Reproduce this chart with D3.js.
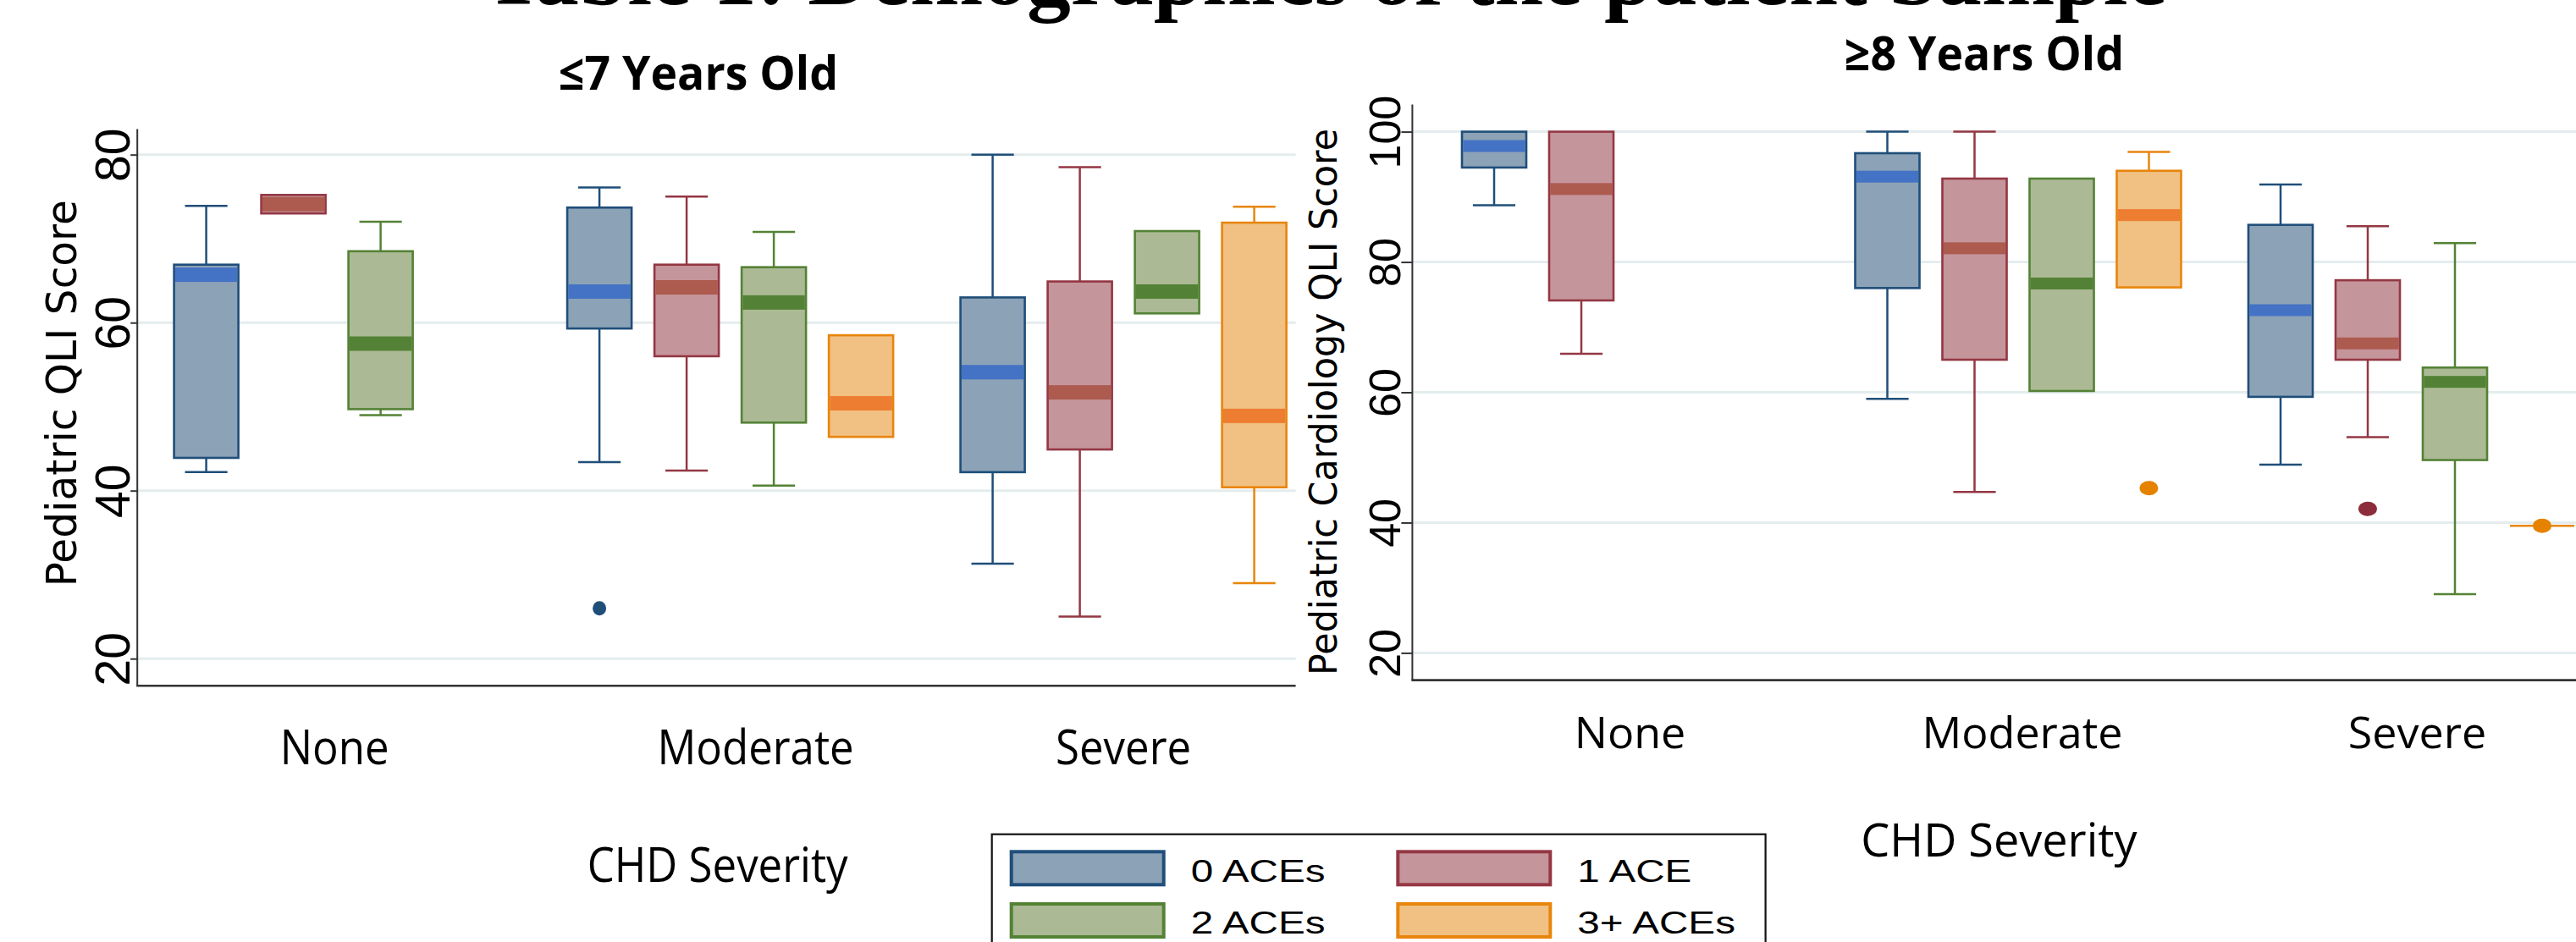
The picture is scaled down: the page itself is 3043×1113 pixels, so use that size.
<!DOCTYPE html>
<html><head><meta charset="utf-8">
<script src="https://cdn.jsdelivr.net/npm/d3@7"></script>
<style>body{margin:0;background:#fff;} svg{display:block}</style>
</head><body>
<svg id="chart" width="3043" height="1113"></svg>
<script>
// ---------------- DATA ----------------
const categories = ["None", "Moderate", "Severe"];
const series = ["0 ACEs", "1 ACE", "2 ACEs", "3+ ACEs"];
const yTicksYoung = [20, 40, 60, 80];
const yTicksOld = [20, 40, 60, 80, 100];

// ≤7 Years Old — rows: categories, cols: series (null = no group)
const youngLow    = [[42.2, 73.0, 49.0, null], [43.4, 42.4, 40.6, 46.4], [31.3, 25.0, 61.1, 29.0]];
const youngQ1     = [[43.9, 73.0, 49.7, null], [59.3, 56.0, 48.1, 46.4], [42.2, 44.9, 61.1, 40.4]];
const youngMedian = [[65.7, 74.1, 57.5, null], [63.7, 64.2, 62.4, 50.4], [54.1, 51.7, 63.7, 48.9]];
const youngQ3     = [[66.9, 75.2, 68.5, null], [73.7, 66.9, 66.6, 58.5], [63.0, 64.9, 70.9, 71.9]];
const youngHigh   = [[73.9, 75.2, 72.0, null], [76.1, 75.0, 70.8, 58.5], [80.0, 78.5, 70.9, 73.8]];
const youngOutliers = [{cat: 1, ser: 0, value: 26.0}];

// ≥8 Years Old
const oldLow    = [[88.7, 65.9, null, null], [59.0, 44.7, 60.2, 76.1], [48.9, 53.1, 29.0, 39.5]];
const oldQ1     = [[94.5, 74.1, null, null], [76.0, 65.0, 60.2, 76.1], [59.3, 65.0, 49.6, 39.5]];
const oldMedian = [[97.8, 91.2, null, null], [93.1, 82.1, 76.7, 87.2], [72.6, 67.5, 61.6, 39.5]];
const oldQ3     = [[100, 100, null, null], [96.7, 92.8, 92.8, 94.0], [85.7, 77.2, 63.8, 39.5]];
const oldHigh   = [[100, 100, null, null], [100, 100, 92.8, 96.9], [91.9, 85.5, 82.9, 39.5]];
const oldOutliers = [{cat: 1, ser: 3, value: 45.3}, {cat: 2, ser: 1, value: 42.1}, {cat: 2, ser: 3, value: 39.5}];

// ---------------- STYLES ----------------
const fillColors   = ["#8ca2b7", "#c5959c", "#abba94", "#f1c083"];
const strokeColors = ["#1f4e79", "#943743", "#548235", "#e8850c"];
const medianColors = ["#4472c4", "#ad5a4f", "#538135", "#ed7d31"];
const outlierColors = ["#1f4e79", "#8b2d3b", "#548235", "#e58200"];
const gridColor = "#e4ecee";
const axisColor = "#333333";

const svg = d3.select("#chart");

function squeeze(sel, factor) {
  sel.each(function () {
    const w = this.getComputedTextLength();
    this.setAttribute("textLength", w * factor);
    this.setAttribute("lengthAdjust", "spacingAndGlyphs");
  });
}

function drawPanel(p) {
  const g = svg.append("g");
  const y = d3.scaleLinear().domain([p.tickLo, p.tickHi]).range([p.yLo, p.yHi]);
  const xCat = d3.scaleBand().domain(categories).range([p.catStart, p.catEnd]).paddingInner(0.113);
  const xSer = d3.scaleBand().domain(series).range([0, xCat.bandwidth()])
    .paddingInner(0.262).paddingOuter(0.131);

  // gridlines
  g.append("g").selectAll("line").data(p.ticks).join("line")
    .attr("x1", p.axisX).attr("x2", p.axisEnd)
    .attr("y1", d => y(d)).attr("y2", d => y(d))
    .attr("stroke", gridColor).attr("stroke-width", 3);

  // boxes
  const items = [];
  categories.forEach((c, ci) => series.forEach((s, si) => {
    if (p.q1[ci][si] == null) return;
    items.push({c, s, si, low: p.low[ci][si], q1: p.q1[ci][si], med: p.med[ci][si],
      q3: p.q3[ci][si], high: p.high[ci][si]});
  }));
  const bw = xSer.bandwidth();
  const capW = bw * 0.66;
  const bx = g.append("g").selectAll("g").data(items).join("g")
    .attr("transform", d => `translate(${xCat(d.c) + xSer(d.s)},0)`);

  // whiskers
  bx.filter(d => d.high > d.q3).append("line")
    .attr("x1", bw / 2).attr("x2", bw / 2).attr("y1", d => y(d.q3)).attr("y2", d => y(d.high))
    .attr("stroke", d => strokeColors[d.si]).attr("stroke-width", 2.5);
  bx.filter(d => d.high > d.q3).append("line")
    .attr("x1", bw / 2 - capW / 2).attr("x2", bw / 2 + capW / 2).attr("y1", d => y(d.high)).attr("y2", d => y(d.high))
    .attr("stroke", d => strokeColors[d.si]).attr("stroke-width", 2.5);
  bx.filter(d => d.low < d.q1).append("line")
    .attr("x1", bw / 2).attr("x2", bw / 2).attr("y1", d => y(d.q1)).attr("y2", d => y(d.low))
    .attr("stroke", d => strokeColors[d.si]).attr("stroke-width", 2.5);
  bx.filter(d => d.low < d.q1).append("line")
    .attr("x1", bw / 2 - capW / 2).attr("x2", bw / 2 + capW / 2).attr("y1", d => y(d.low)).attr("y2", d => y(d.low))
    .attr("stroke", d => strokeColors[d.si]).attr("stroke-width", 2.5);

  // box
  bx.filter(d => d.q3 > d.q1).append("rect")
    .attr("x", 0).attr("width", bw)
    .attr("y", d => y(d.q3)).attr("height", d => y(d.q1) - y(d.q3))
    .attr("fill", d => fillColors[d.si]).attr("stroke", d => strokeColors[d.si]).attr("stroke-width", 2.6);
  // collapsed box (single value) drawn as a line
  bx.filter(d => !(d.q3 > d.q1)).append("line")
    .attr("x1", 0).attr("x2", bw)
    .attr("y1", d => y(d.q1)).attr("y2", d => y(d.q1))
    .attr("stroke", d => strokeColors[d.si]).attr("stroke-width", 2.6);

  // median band
  bx.filter(d => d.q3 > d.q1).append("rect")
    .attr("x", 1.3).attr("width", bw - 2.6)
    .attr("y", d => y(d.med) - p.medH / 2).attr("height", p.medH)
    .attr("fill", d => medianColors[d.si]);

  // outliers
  g.append("g").selectAll("ellipse").data(p.outliers).join("ellipse")
    .attr("cx", d => xCat(categories[d.cat]) + xSer(series[d.ser]) + bw / 2)
    .attr("cy", d => y(d.value))
    .attr("rx", p.outRx).attr("ry", p.outRy)
    .attr("fill", d => outlierColors[d.ser]);

  // y axis
  const ax = g.append("g").attr("transform", `translate(${p.axisX},0)`)
    .call(d3.axisLeft(y).tickValues(p.ticks).tickSize(p.tickLen).tickFormat(d3.format("d")));
  ax.select(".domain").remove();
  ax.selectAll(".tick line").attr("stroke", axisColor).attr("stroke-width", 2);
  ax.selectAll(".tick text")
    .attr("x", null).attr("dy", null).attr("y", null)
    .attr("text-anchor", "middle")
    .attr("transform", `translate(${-p.tickLen - 1},0) rotate(-90)`)
    .attr("font-family", "'Liberation Sans', Arial, sans-serif")
    .attr("font-size", p.tickFont).attr("fill", "#000");
  g.append("line").attr("x1", p.axisX).attr("x2", p.axisX).attr("y1", p.axisTop).attr("y2", p.axisBottom)
    .attr("stroke", axisColor).attr("stroke-width", 2);
  // x axis line
  g.append("line").attr("x1", p.axisX - 1).attr("x2", p.axisEnd).attr("y1", p.axisBottom).attr("y2", p.axisBottom)
    .attr("stroke", axisColor).attr("stroke-width", 2.6);

  // category labels
  const cl = g.append("g").selectAll("text").data(categories).join("text")
    .attr("x", (d, i) => xCat(d) + xCat.bandwidth() / 2 + p.catDx[i])
    .attr("y", p.catBaseline)
    .attr("text-anchor", "middle")
    .attr("font-family", "'Open Sans', sans-serif")
    .attr("font-size", p.catFont).attr("fill", "#000")
    .text(d => d);
  squeeze(cl, p.catSqueeze);

  // x title
  const xt = g.append("text")
    .attr("x", (p.axisX + p.catEnd) / 2).attr("y", p.xTitleBaseline)
    .attr("text-anchor", "middle")
    .attr("font-family", "'Open Sans', sans-serif")
    .attr("font-size", p.xTitleFont).attr("fill", "#000")
    .text("CHD Severity");
  squeeze(xt, p.catSqueeze);

  // y title
  g.append("text")
    .attr("transform", `translate(${p.yTitleX},${p.yTitleY}) rotate(-90)`)
    .attr("text-anchor", "middle")
    .attr("font-family", "'DejaVu Sans', Verdana, sans-serif")
    .attr("font-size", p.yTitleFont).attr("fill", "#000")
    .attr("textLength", p.yTitleLen).attr("lengthAdjust", "spacingAndGlyphs")
    .text(p.yTitle);

  // panel title
  g.append("text")
    .attr("x", p.titleX).attr("y", p.titleBaseline)
    .attr("text-anchor", "middle")
    .attr("font-family", "'Open Sans', sans-serif").attr("font-weight", 700)
    .attr("font-size", 56).attr("fill", "#000")
    .attr("textLength", 330).attr("lengthAdjust", "spacingAndGlyphs")
    .text(p.title);
}

// slide title, cut off at the very top as in the source slide
svg.append("text")
  .attr("x", 1566).attr("y", 5)
  .attr("text-anchor", "middle")
  .attr("font-family", "'Liberation Serif', 'Times New Roman', serif").attr("font-weight", 700)
  .attr("font-size", 103).attr("fill", "#000")
  .attr("textLength", 1987).attr("lengthAdjust", "spacingAndGlyphs")
  .text("Table 1: Demographics of the patient Sample");

drawPanel({
  title: "\u22647 Years Old", titleX: 825, titleBaseline: 106,
  ticks: yTicksYoung, tickLo: 20, tickHi: 80, yLo: 778.2, yHi: 182.7,
  axisX: 162.2, axisEnd: 1530.6, axisTop: 152.6, axisBottom: 810.3,
  catStart: 192.1, catEnd: 1533.1,
  low: youngLow, q1: youngQ1, med: youngMedian, q3: youngQ3, high: youngHigh,
  outliers: youngOutliers, outRx: 8, outRy: 8.5, medH: 17,
  tickLen: 8, tickFont: 57,
  catBaseline: 903, catFont: 56, catSqueeze: 0.91, catDx: [-3, 30, 0],
  xTitleBaseline: 1042, xTitleFont: 56,
  yTitle: "Pediatric QLI Score", yTitleX: 89.5, yTitleY: 464.7, yTitleFont: 49, yTitleLen: 457
});

drawPanel({
  title: "\u22658 Years Old", titleX: 2344, titleBaseline: 83,
  ticks: yTicksOld, tickLo: 20, tickHi: 100, yLo: 771.4, yHi: 155.6,
  axisX: 1668.4, axisEnd: 3060, axisTop: 123.4, axisBottom: 803.6,
  catStart: 1713.5, catEnd: 3054.5,
  low: oldLow, q1: oldQ1, med: oldMedian, q3: oldQ3, high: oldHigh,
  outliers: oldOutliers, outRx: 11, outRy: 8.5, medH: 14,
  tickLen: 13, tickFont: 52,
  catBaseline: 884, catFont: 52, catSqueeze: 1.0, catDx: [6, 5, 7],
  xTitleBaseline: 1012, xTitleFont: 54,
  yTitle: "Pediatric Cardiology QLI Score", yTitleX: 1579, yTitleY: 475, yTitleFont: 45, yTitleLen: 646
});

// ---------------- LEGEND ----------------
const lg = svg.append("g");
lg.append("rect").attr("x", 1171.7).attr("y", 985.7).attr("width", 913.9).attr("height", 160)
  .attr("fill", "#fff").attr("stroke", "#111").attr("stroke-width", 2.2);
const legX = d3.scaleOrdinal().domain([0, 1]).range([1192.7, 1649.3]);
const legY = d3.scaleOrdinal().domain([0, 1]).range([1004.3, 1066]);
const li = lg.selectAll("g.li").data(series).join("g").attr("class", "li")
  .attr("transform", (d, i) => `translate(${legX(i % 2)},${legY(Math.floor(i / 2))})`);
li.append("rect").attr("x", 2).attr("y", 2).attr("width", 180).attr("height", 39)
  .attr("fill", (d, i) => fillColors[i]).attr("stroke", (d, i) => strokeColors[i]).attr("stroke-width", 4);
const lt = li.append("text").attr("x", 214).attr("y", 37.4)
  .attr("font-family", "'Liberation Sans', Arial, sans-serif").attr("font-size", 37.5).attr("fill", "#000")
  .text(d => d);
squeeze(lt, 1.27);
</script>
</body></html>
